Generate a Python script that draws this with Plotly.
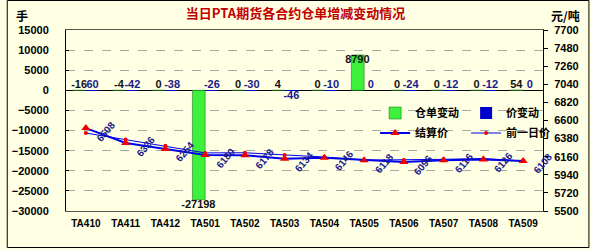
import plotly.graph_objects as go

categories = ["TA410", "TA411", "TA412", "TA501", "TA502", "TA503",
              "TA504", "TA505", "TA506", "TA507", "TA508", "TA509"]
warrant_change = [-16, -4, 0, -27198, 0, 4, 0, 8790, 0, 0, 0, 54]
price_change = [60, -42, -38, -26, -30, -46, -10, 0, -24, -12, -12, 0]
settle_price = [6508, 6326, 6254, 6180, 6178, 6134, 6146, 6118, 6096, 6116, 6126, 6108]
prev_price = [s - c for s, c in zip(settle_price, price_change)]
left_ticks = list(range(-30000, 15001, 5000))
right_ticks = list(range(5500, 7701, 220))

W, H = 591, 250
ML, MR, MT, MB = 60, 48, 30, 39
PW, PH = W - ML - MR, H - MT - MB

def px_x(p):
    return (p - ML) / PW

def px_y(p):
    return (H - MB - p) / PH

idx = list(range(len(categories)))
cjk = "Noto Sans CJK SC"
num = "Liberation Sans"
navy = "#1a1a8c"

fig = go.Figure()

fig.add_trace(go.Bar(
    x=idx, y=warrant_change, name="仓单变动", legend="legend",
    marker=dict(color="#3CF03C", line=dict(color="#1f7a1f", width=0.6)),
    offsetgroup="a", yaxis="y"))
fig.add_trace(go.Bar(
    x=idx, y=price_change, name="价变动", legend="legend",
    marker=dict(color="#0000CC", line=dict(width=0)),
    offsetgroup="b", yaxis="y"))

fig.add_trace(go.Scatter(
    x=idx, y=settle_price, name="结算价", legend="legend2", yaxis="y2",
    mode="lines+markers", line=dict(color="#0000EE", width=2),
    marker=dict(symbol="triangle-up", size=8, color="#EE0000")))
fig.add_trace(go.Scatter(
    x=idx, y=prev_price, name="前一日价", legend="legend2", yaxis="y2",
    mode="lines+markers", line=dict(color="#0000EE", width=1),
    marker=dict(symbol="circle", size=4, color="#EE0000")))

# data labels for warrant change (black) and price change (navy)
w_pos = ["top center" if abs(v) < 1000 else "bottom center" for v in warrant_change]
fig.add_trace(go.Scatter(
    x=[i - 0.17 for i in idx], y=[v if abs(v) >= 1000 else 0 for v in warrant_change],
    mode="text", text=[str(v) for v in warrant_change], textposition=w_pos,
    textfont=dict(family=num, size=11, color="#111111", weight="bold"),
    showlegend=False, hoverinfo="skip", yaxis="y"))
fig.add_trace(go.Scatter(
    x=[i + 0.17 for i in idx], y=[0] * len(idx),
    mode="text", text=[str(v) for v in price_change],
    textposition=["top center" if v > -45 else "bottom center" for v in price_change],
    textfont=dict(family=num, size=11, color=navy, weight="bold"),
    showlegend=False, hoverinfo="skip", yaxis="y"))

annotations = []
for i, v in zip(idx, settle_price):
    annotations.append(dict(
        x=i + 0.5, y=v, xref="x", yref="y2", text=str(v), showarrow=False,
        yshift=-3, textangle=-50, font=dict(family=num, size=10, color=navy, weight="bold")))

annotations.append(dict(x=px_x(15), y=px_y(15), xref="paper", yref="paper",
                        xanchor="center", yanchor="middle",
                        text="手", showarrow=False,
                        font=dict(family=cjk, size=12, color="#000", weight="bold")))
annotations.append(dict(x=px_x(566), y=px_y(15), xref="paper", yref="paper",
                        xanchor="center", yanchor="middle",
                        text="元/吨", showarrow=False,
                        font=dict(family=cjk, size=12, color="#000", weight="bold")))

tickfont = dict(family=num, size=11, color="#000", weight="bold")

fig.update_layout(
    width=W, height=H,
    margin=dict(l=ML, r=MR, t=MT, b=MB, pad=0),
    paper_bgcolor="#FFFFE3", plot_bgcolor="#FFFFE3",
    barmode="group", bargap=0.36, bargroupgap=0,
    title=dict(text="当日PTA期货各合约仓单增减变动情况", x=0.5, xanchor="center",
               y=1 - 13 / H, yanchor="middle",
               font=dict(family=cjk, size=13, color="#C00000", weight="bold")),
    xaxis=dict(range=[-0.5, 11.5], tickmode="array", tickvals=idx, ticktext=categories,
               showline=True, linecolor="#555555", linewidth=1, mirror=True,
               showgrid=False, zeroline=False, ticks="",
               tickfont=dict(family=num, size=10, color="#000", weight="bold"),
               ticklabelstandoff=3),
    yaxis=dict(range=[-30000, 15000], tickmode="array", tickvals=left_ticks,
               tickformat="d",
               showline=True, linecolor="#000", linewidth=1,
               showgrid=True, gridcolor="#A8A8A8", griddash="dash", gridwidth=1,
               zeroline=True, zerolinecolor="#000", zerolinewidth=1,
               ticks="inside", ticklen=3, tickcolor="#000",
               tickfont=tickfont, ticklabelstandoff=14),
    yaxis2=dict(range=[5500, 7700], tickmode="array", tickvals=right_ticks,
                tickformat="d",
                overlaying="y", side="right", showline=True, linecolor="#000", linewidth=1,
                showgrid=False, zeroline=False, ticks="outside", ticklen=4, tickcolor="#000",
                tickfont=tickfont, ticklabelstandoff=4),
    legend=dict(orientation="h", x=px_x(373), y=px_y(113), xanchor="left", yanchor="middle",
                bgcolor="rgba(0,0,0,0)", entrywidth=46, itemwidth=30,
                font=dict(family=cjk, size=11, color="#000", weight="bold")),
    legend2=dict(orientation="h", x=px_x(373), y=px_y(133), xanchor="left", yanchor="middle",
                 bgcolor="rgba(0,0,0,0)", entrywidth=46, itemwidth=30,
                 font=dict(family=cjk, size=11, color="#000", weight="bold")),
    annotations=annotations,
    shapes=[dict(type="rect", xref="paper", yref="paper",
                 x0=px_x(0.5), x1=px_x(W - 1.5), y0=px_y(H - 2.5), y1=px_y(0.5),
                 line=dict(color="#000", width=1), layer="below")],
    showlegend=True,
)

fig.write_html("out.html")
